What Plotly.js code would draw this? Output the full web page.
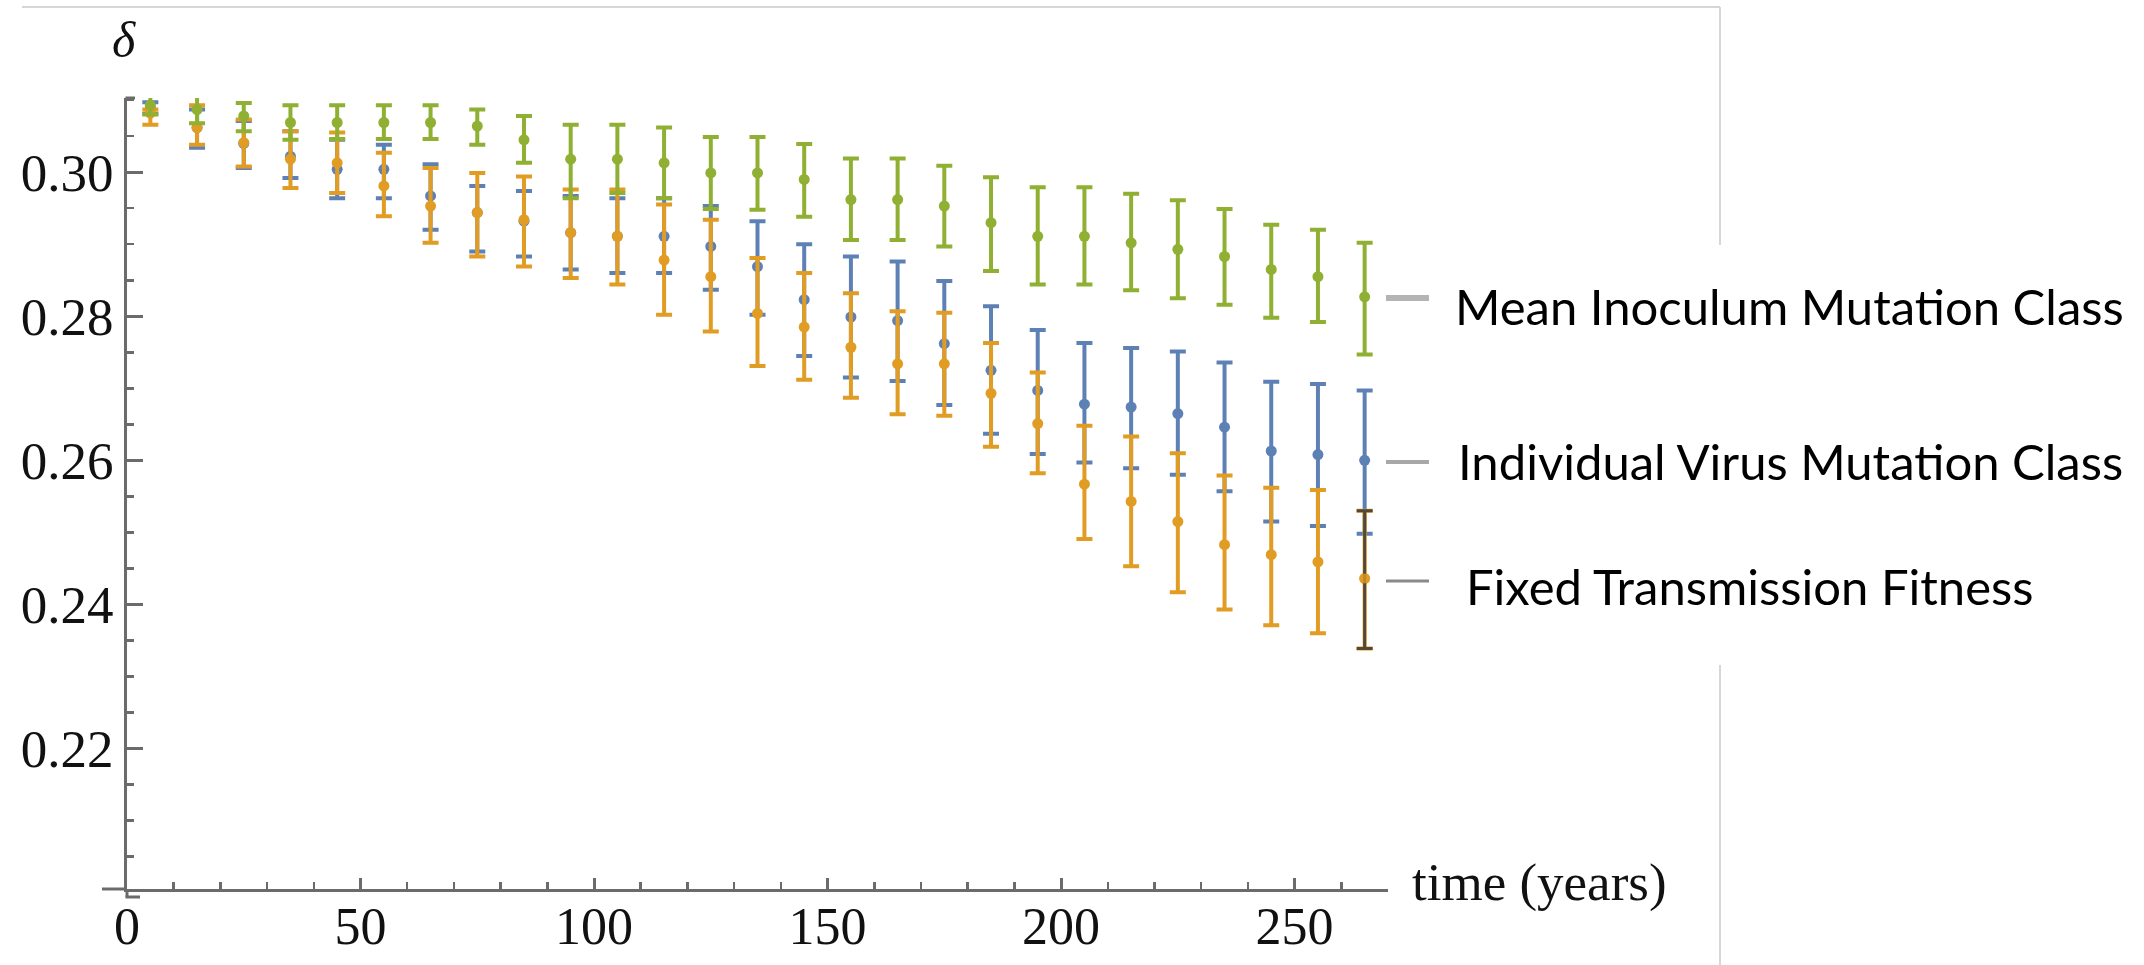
<!DOCTYPE html>
<html>
<head>
<meta charset="utf-8">
<script src="https://cdn.plot.ly/plotly-3.0.1.min.js"></script>
<style>
  html, body { margin: 0; padding: 0; background: #ffffff; }
  #chart { width: 2144px; height: 965px; }
</style>
</head>
<body>
<div id="chart"></div>
<script>
// Time points (years)
const years = [5, 15, 25, 35, 45, 55, 65, 75, 85, 95, 105, 115, 125, 135, 145,
               155, 165, 175, 185, 195, 205, 215, 225, 235, 245, 255, 265];

// Mean Inoculum Mutation Class: mean and interval bounds
const meanInocMean = [0.3093, 0.3087, 0.3078, 0.3069, 0.3069, 0.3069, 0.3069, 0.3064, 0.3045, 0.3018, 0.3018, 0.3013, 0.2999, 0.2999, 0.2990,
                      0.2962, 0.2962, 0.2953, 0.2930, 0.2911, 0.2911, 0.2902, 0.2893, 0.2883, 0.2865, 0.2855, 0.2827];
const meanInocLow  = [0.3080, 0.3068, 0.3057, 0.3045, 0.3046, 0.3046, 0.3046, 0.3038, 0.3013, 0.2964, 0.2971, 0.2964, 0.2949, 0.2948, 0.2938,
                      0.2906, 0.2906, 0.2897, 0.2863, 0.2844, 0.2844, 0.2836, 0.2825, 0.2816, 0.2798, 0.2792, 0.2747];
const meanInocHigh = [0.3106, 0.3106, 0.3096, 0.3093, 0.3093, 0.3093, 0.3093, 0.3087, 0.3078, 0.3066, 0.3066, 0.3062, 0.3049, 0.3049, 0.3039,
                      0.3019, 0.3019, 0.3009, 0.2993, 0.2979, 0.2979, 0.2970, 0.2961, 0.2949, 0.2927, 0.2920, 0.2902];

// Individual Virus Mutation Class
const indivMean = [0.3089, 0.3062, 0.3040, 0.3022, 0.3004, 0.3004, 0.2967, 0.2944, 0.2932, 0.2916, 0.2911, 0.2911, 0.2897, 0.2869, 0.2823,
                   0.2799, 0.2794, 0.2762, 0.2725, 0.2697, 0.2678, 0.2674, 0.2665, 0.2646, 0.2613, 0.2608, 0.2600];
const indivLow  = [0.3081, 0.3034, 0.3006, 0.2992, 0.2964, 0.2964, 0.2920, 0.2890, 0.2883, 0.2865, 0.2860, 0.2860, 0.2837, 0.2802, 0.2745,
                   0.2715, 0.2710, 0.2677, 0.2637, 0.2609, 0.2597, 0.2589, 0.2580, 0.2557, 0.2515, 0.2509, 0.2498];
const indivHigh = [0.3097, 0.3087, 0.3071, 0.3057, 0.3045, 0.3038, 0.3011, 0.2981, 0.2974, 0.2967, 0.2964, 0.2964, 0.2953, 0.2932, 0.2900,
                   0.2883, 0.2876, 0.2849, 0.2814, 0.2781, 0.2763, 0.2756, 0.2751, 0.2736, 0.2709, 0.2706, 0.2697];

// Fixed Transmission Fitness
const fixedMean = [0.3082, 0.3062, 0.3041, 0.3018, 0.3013, 0.2981, 0.2953, 0.2944, 0.2934, 0.2916, 0.2911, 0.2878, 0.2855, 0.2804, 0.2785,
                   0.2757, 0.2734, 0.2734, 0.2693, 0.2651, 0.2567, 0.2543, 0.2515, 0.2483, 0.2469, 0.2459, 0.2436];
const fixedLow  = [0.3066, 0.3038, 0.3008, 0.2978, 0.2971, 0.2939, 0.2902, 0.2883, 0.2869, 0.2853, 0.2844, 0.2802, 0.2779, 0.2731, 0.2712,
                   0.2687, 0.2664, 0.2662, 0.2619, 0.2582, 0.2491, 0.2453, 0.2417, 0.2393, 0.2371, 0.2360, 0.2339];
const fixedHigh = [0.3087, 0.3093, 0.3073, 0.3057, 0.3055, 0.3027, 0.3006, 0.2999, 0.2994, 0.2976, 0.2976, 0.2955, 0.2934, 0.2881, 0.2860,
                   0.2832, 0.2807, 0.2805, 0.2763, 0.2722, 0.2648, 0.2633, 0.2610, 0.2579, 0.2562, 0.2559, 0.2530];

const seriesNames = ["Mean Inoculum Mutation Class", "Individual Virus Mutation Class", "Fixed Transmission Fitness"];
const xTitle = "time (years)";
const yTitle = "\u03B4";

// Page geometry (pixels)
const W = 2144, H = 965;
const M = { l: 127, r: 756, t: 98, b: 76 };
const plotW = W - M.l - M.r;
const plotH = H - M.t - M.b;
const px = x => (x - M.l) / plotW;          // pixel x -> paper x
const py = y => (H - M.b - y) / plotH;      // pixel y -> paper y

const COL = { blue: "#5E81B5", orange: "#E19C24", green: "#8FB032" };
const AXIS = "#6b6b6b";

function errTrace(name, mean, lo, hi, color) {
  return {
    type: "scatter", mode: "markers", name: name,
    x: years, y: mean, cliponaxis: false,
    marker: { color: color, size: 11 },
    error_y: {
      type: "data", symmetric: false,
      array: hi.map((v, i) => v - mean[i]),
      arrayminus: lo.map((v, i) => mean[i] - v),
      color: color, thickness: 4, width: 8
    }
  };
}

const last = years.length - 1;
const traces = [
  errTrace(seriesNames[1], indivMean, indivLow, indivHigh, COL.blue),
  errTrace(seriesNames[2], fixedMean, fixedLow, fixedHigh, COL.orange),
  errTrace(seriesNames[0], meanInocMean, meanInocLow, meanInocHigh, COL.green),
  // darker overlay on the final fixed-fitness interval
  {
    type: "scatter", mode: "markers", cliponaxis: false,
    x: [years[last]], y: [fixedMean[last]],
    marker: { color: "rgba(225,156,36,0.75)", size: 10 },
    error_y: {
      type: "data", symmetric: false,
      array: [fixedHigh[last] - fixedMean[last]],
      arrayminus: [fixedMean[last] - fixedLow[last]],
      color: "rgba(60,56,52,0.85)", thickness: 3, width: 8
    }
  }
];

const serif = "Liberation Serif, Times New Roman, serif";
const sans = "Lato, Noto Sans, sans-serif";

const line = (x0, y0, x1, y1, color, width) => ({
  type: "line", xref: "paper", yref: "paper",
  x0: px(x0), y0: py(y0), x1: px(x1), y1: py(y1),
  line: { color: color, width: width }
});

const shapes = [
  // axis extensions and end brackets
  line(102, 889, 127, 889, AXIS, 3),
  line(127, 889, 127, 897, AXIS, 3),
  line(125.5, 897, 140, 897, AXIS, 3),
  line(125.5, 98, 135, 98, AXIS, 3),
  // slide frame
  line(22, 7, 1720, 7, "#c8c8c8", 1.5),
  line(1720, 7, 1720, 245, "#c8c8c8", 1.5),
  line(1720, 665, 1720, 965, "#c8c8c8", 1.5),
  // legend keys
  line(1386, 298, 1429, 298, "#b4b4b4", 6),
  line(1386, 462, 1429, 462, "#a8a8a8", 4),
  line(1386, 581, 1429, 581, "#8a8a8a", 3)
];

const legendY = [306, 461, 586];
const legendX = [1453, 1456, 1464];
const annotations = seriesNames.map((s, i) => ({
  text: s, xref: "paper", yref: "paper",
  x: px(legendX[i]), y: py(legendY[i]), xanchor: "left", yanchor: "middle",
  showarrow: false, font: { family: sans, size: 49, color: "#000" }
}));
annotations.push({
  text: xTitle, xref: "paper", yref: "paper",
  x: px(1410), y: py(882), xanchor: "left", yanchor: "middle",
  showarrow: false, font: { family: serif, size: 53, color: "#111" }
});
annotations.push({
  text: "<i>" + yTitle + "</i>", xref: "paper", yref: "paper",
  x: px(124), y: py(40), xanchor: "center", yanchor: "middle",
  showarrow: false, font: { family: serif, size: 50, color: "#111" }
});

const layout = {
  width: W, height: H, margin: M,
  paper_bgcolor: "#ffffff", plot_bgcolor: "#ffffff",
  showlegend: false,
  xaxis: {
    range: [0, 270], showgrid: false, zeroline: false,
    showline: true, linecolor: AXIS, linewidth: 3,
    ticks: "inside", ticklen: 11, tickwidth: 3, tickcolor: AXIS,
    tick0: 0, dtick: 50, ticklabelstandoff: -10,
    minor: { ticks: "inside", dtick: 10, ticklen: 7, tickwidth: 2.5, tickcolor: AXIS, showgrid: false },
    tickfont: { family: serif, size: 52, color: "#111" }
  },
  yaxis: {
    range: [0.2005, 0.3103], showgrid: false, zeroline: false,
    showline: true, linecolor: AXIS, linewidth: 3,
    ticks: "inside", ticklen: 16, tickwidth: 3, tickcolor: AXIS,
    tick0: 0.2, dtick: 0.02, tickformat: ".2f",
    minor: { ticks: "inside", dtick: 0.005, ticklen: 7, tickwidth: 2.5, tickcolor: AXIS, showgrid: false },
    tickfont: { family: serif, size: 53, color: "#111" }
  },
  shapes: shapes,
  annotations: annotations
};

Plotly.newPlot("chart", traces, layout, { displayModeBar: false, staticPlot: true });
</script>
</body>
</html>
